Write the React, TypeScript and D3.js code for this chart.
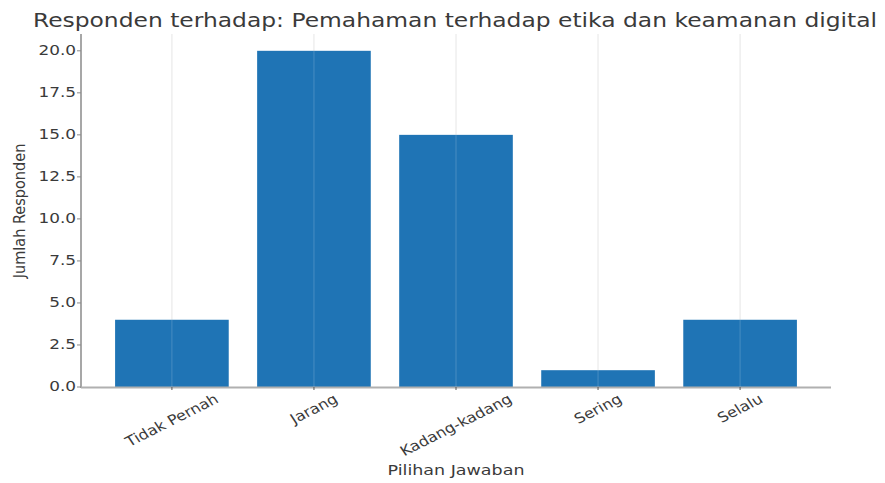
import React, { useEffect, useRef } from "react";
import * as d3 from "d3";

const categories = ["Tidak Pernah", "Jarang", "Kadang-kadang", "Sering", "Selalu"];
const values = [4, 20, 15, 1, 4];
const yTicks = [0, 2.5, 5, 7.5, 10, 12.5, 15, 17.5, 20];
const title = "Responden terhadap: Pemahaman terhadap etika dan keamanan digital";
const xLabel = "Pilihan Jawaban";
const yLabel = "Jumlah Responden";

const W = 885;
const H = 483;
const FONT = "DejaVu Sans, sans-serif";
const TEXT = "#3a3a3a";

export default function App() {
  const ref = useRef<SVGSVGElement | null>(null);

  useEffect(() => {
    const svg = d3.select(ref.current);
    svg.selectAll("*").remove();

    const left = 81, right = 831, top = 34, bottom = 387;
    const x = d3.scaleLinear().domain([-0.64, categories.length - 1 + 0.64]).range([left, right]);
    const y = d3.scaleLinear().domain([0, 21]).range([bottom, top]);
    const step = x(1) - x(0);
    const bw = step * 0.8;

    svg.append("rect").attr("width", W).attr("height", H).attr("fill", "#fff");

    // grid behind
    svg.append("g").selectAll("line").data(categories).join("line")
      .attr("x1", (_, i) => x(i)).attr("x2", (_, i) => x(i))
      .attr("y1", top).attr("y2", bottom)
      .attr("stroke", "#e4e4e4").attr("stroke-width", 1);

    svg.append("g").selectAll("rect").data(values).join("rect")
      .attr("x", (_, i) => x(i) - bw / 2)
      .attr("width", bw)
      .attr("y", (d) => y(d))
      .attr("height", (d) => y(0) - y(d))
      .attr("fill", "#1f74b5");

    // grid over bars (faint)
    svg.append("g").selectAll("line").data(categories).join("line")
      .attr("x1", (_, i) => x(i)).attr("x2", (_, i) => x(i))
      .attr("y1", top).attr("y2", bottom)
      .attr("stroke", "#ffffff").attr("stroke-opacity", 0.18).attr("stroke-width", 1);

    // spines
    svg.append("line").attr("x1", left).attr("x2", left).attr("y1", top).attr("y2", bottom + 1)
      .attr("stroke", "#8a8a8a").attr("stroke-width", 1.5);
    svg.append("line").attr("x1", left).attr("x2", right).attr("y1", bottom + 0.5).attr("y2", bottom + 0.5)
      .attr("stroke", "#b0b0b0").attr("stroke-width", 2);

    // y ticks
    const yt = svg.append("g");
    yTicks.forEach((t) => {
      yt.append("line").attr("x1", left - 4).attr("x2", left).attr("y1", y(t)).attr("y2", y(t))
        .attr("stroke", "#8a8a8a").attr("stroke-width", 1);
      yt.append("text")
        .attr("transform", `translate(${left - 5},${y(t)}) scale(1.25,1)`)
        .attr("text-anchor", "end").attr("dominant-baseline", "central")
        .attr("font-family", FONT).attr("font-size", 13.5).attr("fill", TEXT)
        .text(d3.format(".1f")(t));
    });

    // x ticks
    const xt = svg.append("g");
    const ang = 30;
    const rad = (ang * Math.PI) / 180;
    const fs = 14;
    categories.forEach((c, i) => {
      xt.append("line").attr("x1", x(i)).attr("x2", x(i)).attr("y1", bottom).attr("y2", bottom + 3)
        .attr("stroke", "#555").attr("stroke-width", 1);
      const t = xt.append("text")
        .attr("font-family", FONT).attr("font-size", fs).attr("fill", TEXT)
        .attr("text-anchor", "middle").attr("dominant-baseline", "central")
        .text(c);
      const w = (t.node() as SVGTextElement).getComputedTextLength();
      const h = fs * 0.95;
      const bh = w * Math.sin(rad) + h * Math.cos(rad);
      const cy = bottom + 5 + bh / 2;
      t.attr("transform", `translate(${x(i)},${cy}) scale(1.15,1) rotate(${-ang})`);
    });

    // axis labels
    svg.append("text")
      .attr("transform", `translate(${(left + right) / 2},${470}) scale(1.25,1)`)
      .attr("text-anchor", "middle").attr("dominant-baseline", "central")
      .attr("font-family", FONT).attr("font-size", 14).attr("fill", TEXT)
      .text(xLabel);

    svg.append("text")
      .attr("transform", `translate(20,${211}) scale(1.15,1) rotate(-90)`)
      .attr("text-anchor", "middle").attr("dominant-baseline", "central")
      .attr("font-family", FONT).attr("font-size", 14.5).attr("fill", TEXT)
      .text(yLabel);

    // title
    const tt = svg.append("text")
      .attr("text-anchor", "middle").attr("dominant-baseline", "central")
      .attr("font-family", FONT).attr("font-size", 19).attr("fill", TEXT)
      .text(title);
    const tw = (tt.node() as SVGTextElement).getComputedTextLength();
    const sx = 845 / tw;
    tt.attr("transform", `translate(455,20) scale(${sx},1)`);
  }, []);

  return (
    <svg ref={ref} width={W} height={H} style={{ display: "block", position: "absolute", left: 0, top: 0 }} />
  );
}
